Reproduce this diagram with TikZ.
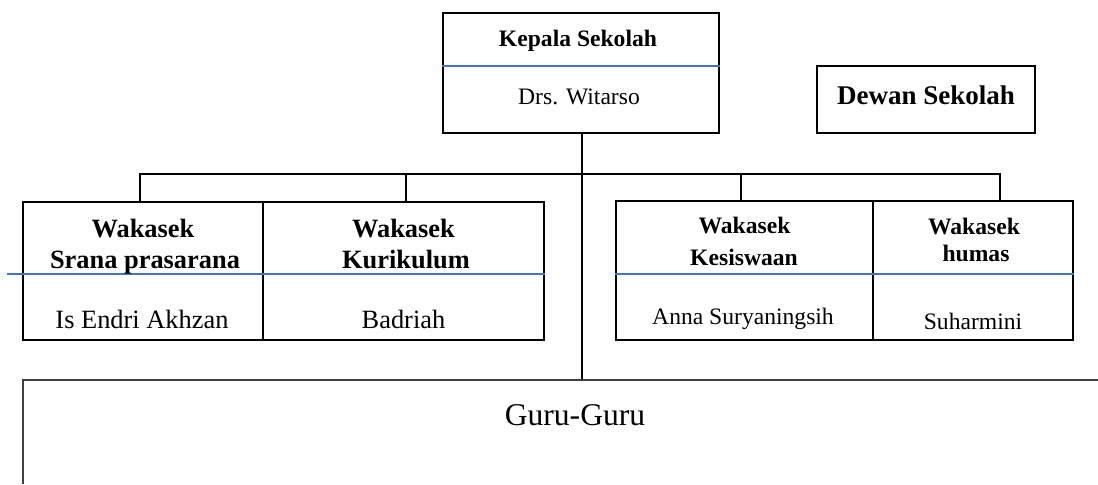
\documentclass[tikz,border=0pt]{standalone}
\usepackage{fontspec}
\setmainfont{Liberation Serif}
\definecolor{wordblue}{RGB}{68,114,196}
\tikzset{
  box/.style={draw,line width=0.75pt,inner sep=0pt},
  lbl/.style={inner sep=0pt,anchor=base},
  divider/.style={wordblue,line width=0.6pt},
  link/.style={line width=0.75pt},
  guruline/.style={black!75,line width=1pt}
}
\newcommand{\wakafont}{\fontsize{13.2}{15}\selectfont\bfseries}
\newcommand{\smallfnt}{\fontsize{11.8}{14}\selectfont}
\begin{document}
\begin{tikzpicture}[x=0.5pt,y=-0.5pt]
\useasboundingbox (0,0) rectangle (1098,484);
\node[box,minimum width=138pt,minimum height=60pt] (kepala) at (581,73) {};
\node[box,minimum width=109pt,minimum height=33.5pt] (dewan) at (926,99.5) {};
\node[box,minimum width=120pt,minimum height=69pt] (srana) at (143,271) {};
\node[box,minimum width=140.5pt,minimum height=69pt] (kurikulum) at (403.5,271) {};
\node[box,minimum width=128.5pt,minimum height=69.5pt] (kesiswaan) at (744.5,270.5) {};
\node[box,minimum width=100pt,minimum height=69.5pt] (humas) at (973,270.5) {};
\draw[divider] (kepala.west |- 0,66) -- (kepala.east |- 0,66);
\draw[divider] (7,274) -- (kurikulum.east |- 0,274);
\draw[divider] (kesiswaan.west |- 0,274) -- (humas.east |- 0,274);
\node[lbl,font=\smallfnt\bfseries] (kepalaJab) at (578,46) {Kepala Sekolah};
\node[lbl,font=\smallfnt] (kepalaNama) at (579,104) {Drs. Witarso};
\node[lbl,font=\fontsize{13.5}{16}\selectfont\bfseries] (dewanJab) at (926,104) {Dewan Sekolah};
\node[lbl,font=\wakafont] (sranaJab1) at (143,237) {Wakasek};
\node[lbl,font=\wakafont] (sranaJab2) at (145,268) {Srana prasarana};
\node[lbl,font=\fontsize{13.2}{15}\selectfont] (sranaNama) at (142,328) {Is Endri Akhzan};
\node[lbl,font=\wakafont] (kurikulumJab1) at (403.5,237) {Wakasek};
\node[lbl,font=\wakafont] (kurikulumJab2) at (406,268) {Kurikulum};
\node[lbl,font=\fontsize{13.2}{15}\selectfont] (kurikulumNama) at (403.5,328) {Badriah};
\node[lbl,font=\smallfnt\bfseries] (kesiswaanJab1) at (744.5,233) {Wakasek};
\node[lbl,font=\smallfnt\bfseries] (kesiswaanJab2) at (744,265) {Kesiswaan};
\node[lbl,font=\smallfnt] (kesiswaanNama) at (743,324) {Anna Suryaningsih};
\node[lbl,font=\smallfnt\bfseries] (humasJab1) at (974,234) {Wakasek};
\node[lbl,font=\smallfnt\bfseries] (humasJab2) at (976,261) {humas};
\node[lbl,font=\smallfnt] (humasNama) at (973,329) {Suharmini};
\coordinate (barL) at (140,174);
\coordinate (barR) at (1000,174);
\coordinate (guruTop) at (582,380);
\draw[link] (srana.north -| barL) -- (barL) -- (barR) -- (humas.north -| barR);
\draw[link] (kurikulum.north -| 406,0) -- (406,174);
\draw[link] (kesiswaan.north -| 741,0) -- (741,174);
\draw[link] (kepala.south -| guruTop) -- (guruTop);
\draw[guruline] (1098,380) -- (23,380) -- (23,484);
\node[lbl,font=\fontsize{15.8}{18}\selectfont] (guru) at (575,425) {Guru-Guru};
\end{tikzpicture}
\end{document}
